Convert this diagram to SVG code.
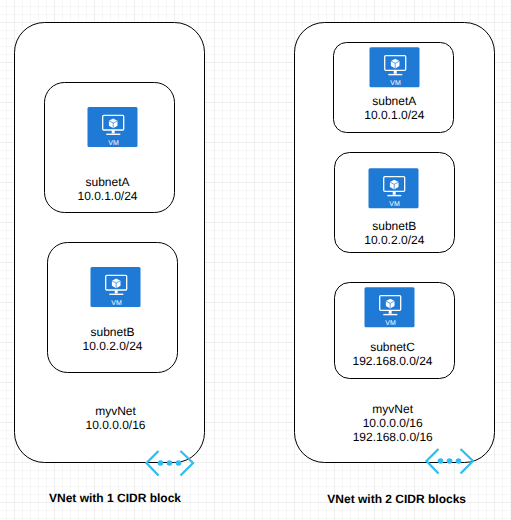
<svg xmlns="http://www.w3.org/2000/svg" xmlns:xlink="http://www.w3.org/1999/xlink" width="511" height="520" viewBox="0 0 511 520">
<style>
text{font-family:"Liberation Sans",Arial,Helvetica,sans-serif;font-size:12px;fill:#000;text-anchor:middle;text-rendering:geometricPrecision}
.b{font-weight:bold}
.box{fill:#fff;stroke:#000;stroke-width:1}
.vmbg{fill:#1f7ad6}
.w{fill:none;stroke:#fff;stroke-width:1.3}
.vt{font-size:7px;fill:#fff}
.p{fill:none;stroke:#2dbdf0;stroke-width:2.2}
.d{fill:#2dbdf0}
</style>
<defs>
<pattern id="minor" width="8" height="8" patternUnits="userSpaceOnUse" x="6" y="6"><path d="M.5 0V8M0 .5H8" fill="none" stroke="#f7f7f7" stroke-width="1"/></pattern>
<pattern id="major" width="40" height="40" patternUnits="userSpaceOnUse" x="14" y="22"><path d="M.5 0V40M0 .5H40" fill="none" stroke="#eeeeee" stroke-width="1"/></pattern>
<g id="vm">
<rect width="50" height="40" rx="1.5" class="vmbg"/>
<rect x="15.2" y="8.4" width="21" height="14.6" rx="1" class="w"/>
<path d="M25.7 23v3.5" fill="none" stroke="#fff" stroke-width="3"/>
<path d="M18.8 27.3h14" fill="none" stroke="#fff" stroke-width="1.4"/>
<path d="M25.7 11.5l4.3 2.3v5l-4.3 2.4-4.3-2.4v-5z" fill="#fff"/>
<path d="M25.7 16v5M21.4 13.8l4.3 2.2 4.3-2.2" fill="none" stroke="#1f7ad6" stroke-width=".7"/>
<text x="26" y="37.7" class="vt">VM</text>
</g>
<g id="vnicon">
<path d="M12 -12L0 0 12 12.5M34 -12L46.5 0 34 12.5" class="p"/>
<circle cx="14" cy="0" r="2.8" class="d"/><circle cx="23" cy="0" r="2.8" class="d"/><circle cx="32" cy="0" r="2.8" class="d"/>
</g>
</defs>
<rect width="511" height="520" fill="#fff"/>
<rect width="511" height="520" fill="url(#minor)"/>
<rect width="511" height="520" fill="url(#major)"/>
<g id="connectors"></g>
<g id="vnet1">
<rect x="14.5" y="22.5" width="190" height="440" rx="30" class="box"/>
<text x="115.5" y="415">myvNet</text>
<text x="115.5" y="429">10.0.0.0/16</text>
</g>
<g id="vnet1-subnetA">
<rect x="44.5" y="82.5" width="130" height="130" rx="20" class="box"/>
<use xlink:href="#vm" href="#vm" x="87.5" y="107"/>
<text x="107.5" y="186">subnetA</text>
<text x="107.5" y="200">10.0.1.0/24</text>
</g>
<g id="vnet1-subnetB">
<rect x="47.5" y="242.5" width="130" height="130" rx="20" class="box"/>
<use xlink:href="#vm" href="#vm" x="90.5" y="267"/>
<text x="112.5" y="336">subnetB</text>
<text x="112.5" y="350">10.0.2.0/24</text>
</g>
<g id="vnet1-icon"><use xlink:href="#vnicon" href="#vnicon" x="146.5" y="463"/></g>
<text x="115" y="502" class="b">VNet with 1 CIDR block</text>
<g id="vnet2">
<rect x="294.5" y="22.5" width="200" height="440" rx="30" class="box"/>
<text x="392.7" y="413">myvNet</text>
<text x="392.7" y="427">10.0.0.0/16</text>
<text x="392.7" y="441">192.168.0.0/16</text>
</g>
<g id="vnet2-subnetA">
<rect x="333.5" y="42.5" width="120" height="90" rx="13" class="box"/>
<use xlink:href="#vm" href="#vm" x="369.5" y="47.3"/>
<text x="394.3" y="105">subnetA</text>
<text x="394.3" y="119">10.0.1.0/24</text>
</g>
<g id="vnet2-subnetB">
<rect x="334.5" y="152.5" width="120" height="100" rx="15" class="box"/>
<use xlink:href="#vm" href="#vm" x="368.5" y="168.3"/>
<text x="394.3" y="230">subnetB</text>
<text x="394.3" y="244">10.0.2.0/24</text>
</g>
<g id="vnet2-subnetC">
<rect x="334.5" y="282.5" width="120" height="96" rx="15" class="box"/>
<use xlink:href="#vm" href="#vm" x="364.5" y="287.3"/>
<text x="392.5" y="351">subnetC</text>
<text x="392.5" y="365">192.168.0.0/24</text>
</g>
<g id="vnet2-icon"><use xlink:href="#vnicon" href="#vnicon" x="426.5" y="461"/></g>
<text x="396.7" y="503" class="b">VNet with 2 CIDR blocks</text>
</svg>
